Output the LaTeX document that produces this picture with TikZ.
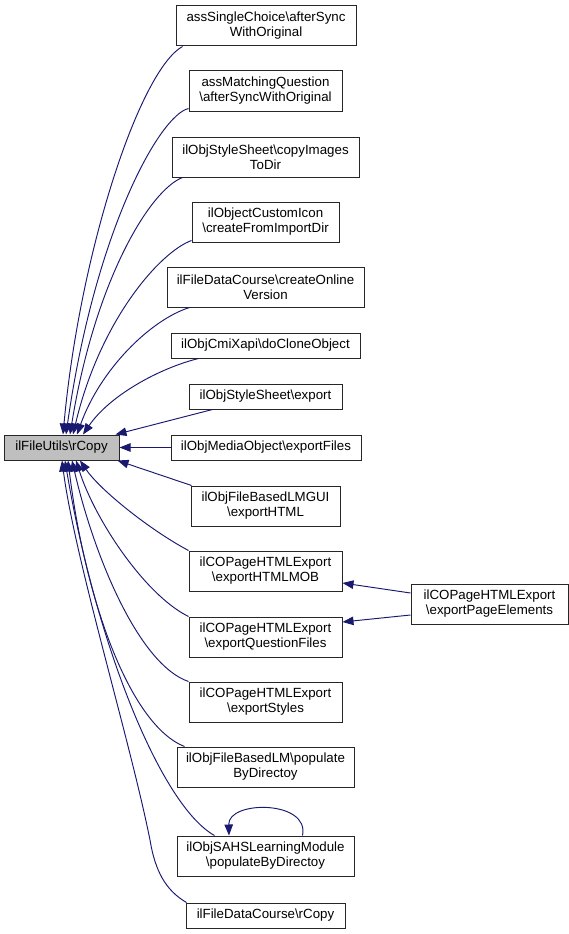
\documentclass[tikz,border=0pt]{standalone}
\usepackage{fontspec}
\setmainfont{Liberation Sans}
\usetikzlibrary{arrows.meta}
\definecolor{edgecol}{HTML}{191970}
\definecolor{maingray}{HTML}{BFBFBF}
\tikzset{
  box/.style={draw=black!85, line width=1pt, fill=white, align=center, inner sep=0pt,
    font=\fontsize{13.3}{15}\selectfont},
  box2/.style={box, minimum height=40pt},
  box1/.style={box, minimum height=25pt},
  edge/.style={draw=edgecol, line width=0.95pt, -{Triangle[length=11pt,width=8.5pt]}},
}
\begin{document}
\begin{tikzpicture}[x=1pt,y=-1pt]
\useasboundingbox (0,0) rectangle (569,934);
\node[box1, fill=maingray, minimum width=115pt] (main) at (61.5,447.5) {ilFileUtils\textbackslash rCopy};
\node[box2, minimum width=180pt] (b1) at (266,26) {assSingleChoice\textbackslash afterSync\\WithOriginal};
\node[box2, minimum width=153pt] (b2) at (265.5,91) {assMatchingQuestion\\\textbackslash afterSyncWithOriginal};
\node[box2, minimum width=187pt] (b3) at (265.5,157) {ilObjStyleSheet\textbackslash copyImages\\ToDir};
\node[box2, minimum width=147pt] (b4) at (265.5,222) {ilObjectCustomIcon\\\textbackslash createFromImportDir};
\node[box2, minimum width=197pt] (b5) at (265.5,287) {ilFileDataCourse\textbackslash createOnline\\Version};
\node[box1, minimum width=189pt] (b6) at (265.5,345.5) {ilObjCmiXapi\textbackslash doCloneObject};
\node[box1, minimum width=153pt] (b7) at (265.5,396.5) {ilObjStyleSheet\textbackslash export};
\node[box1, minimum width=190pt] (b8) at (266,447.5) {ilObjMediaObject\textbackslash exportFiles};
\node[box2, minimum width=149pt] (b9) at (265.5,506) {ilObjFileBasedLMGUI\\\textbackslash exportHTML};
\node[box2, minimum width=153pt] (b10) at (265.5,571) {ilCOPageHTMLExport\\\textbackslash exportHTMLMOB};
\node[box2, minimum width=153pt] (b11) at (265.5,637) {ilCOPageHTMLExport\\\textbackslash exportQuestionFiles};
\node[box2, minimum width=153pt] (b12) at (265.5,702) {ilCOPageHTMLExport\\\textbackslash exportStyles};
\node[box2, minimum width=177pt] (b13) at (265.5,767) {ilObjFileBasedLM\textbackslash populate\\ByDirectoy};
\node[box2, minimum width=177pt] (b14) at (265.5,856) {ilObjSAHSLearningModule\\\textbackslash populateByDirectoy};
\node[box1, minimum width=159pt] (b15) at (265.5,915.5) {ilFileDataCourse\textbackslash rCopy};
\node[box2, minimum width=157pt] (r) at (489.5,604) {ilCOPageHTMLExport\\\textbackslash exportPageElements};
% edges to main
\draw[edge] ([xshift=7pt]b1.south west) .. controls (140,70) and (80,250) .. ([xshift=1.5pt]main.north);
\draw[edge] ([yshift=3pt]b2.south west) .. controls (160,115) and (95,230) .. ([xshift=4.5pt]main.north);
\draw[edge] ([xshift=11pt]b3.south west) .. controls (150,190) and (95,280) .. ([xshift=8.5pt]main.north);
\draw[edge] ([yshift=2pt]b4.south west) .. controls (160,252) and (100,320) .. ([xshift=11.5pt]main.north);
\draw[edge] ([xshift=23pt]b5.south west) .. controls (150,320) and (100,370) .. ([xshift=15.5pt]main.north);
\draw[edge] ([xshift=28pt]b6.south west) .. controls (160,368) and (110,395) .. ([xshift=21.5pt]main.north);
\draw[edge] ([xshift=24pt]b7.south west) -- ([xshift=-4pt]main.north east);
\draw[edge] (b8.west) -- (main.east);
\draw[edge] ([xshift=1pt]b9.north west) -- ([xshift=-2pt]main.south east);
\draw[edge] (b10.north west) .. controls (150,530) and (100,490) .. ([xshift=18.5pt]main.south);
\draw[edge] (b11.north west) .. controls (145,595) and (95,520) .. ([xshift=14.5pt]main.south);
\draw[edge] (b12.north west) .. controls (140,665) and (95,560) .. ([xshift=10.5pt]main.south);
\draw[edge] ([xshift=8pt]b13.north west) .. controls (130,725) and (85,600) .. ([xshift=6.5pt]main.south);
\draw[edge] ([xshift=38pt]b14.north west) .. controls (160,805) and (95,640) .. ([xshift=3.5pt]main.south);
\draw[edge] ([xshift=1pt]b15.north west) .. controls (165,890) and (155,870) .. (150,840) .. controls (130,740) and (75,560) .. ([xshift=0.5pt]main.south);
% right edges
\draw[edge] ([yshift=11pt]r.west) -- ([yshift=-12pt]b10.east);
\draw[edge] ([yshift=-11pt]r.west) -- ([yshift=15pt]b11.east);
% self loop
\draw[edge] ([xshift=126pt]b14.north west) .. controls (310,800) and (228,800) .. ([xshift=52.5pt]b14.north west);
\end{tikzpicture}
\end{document}
